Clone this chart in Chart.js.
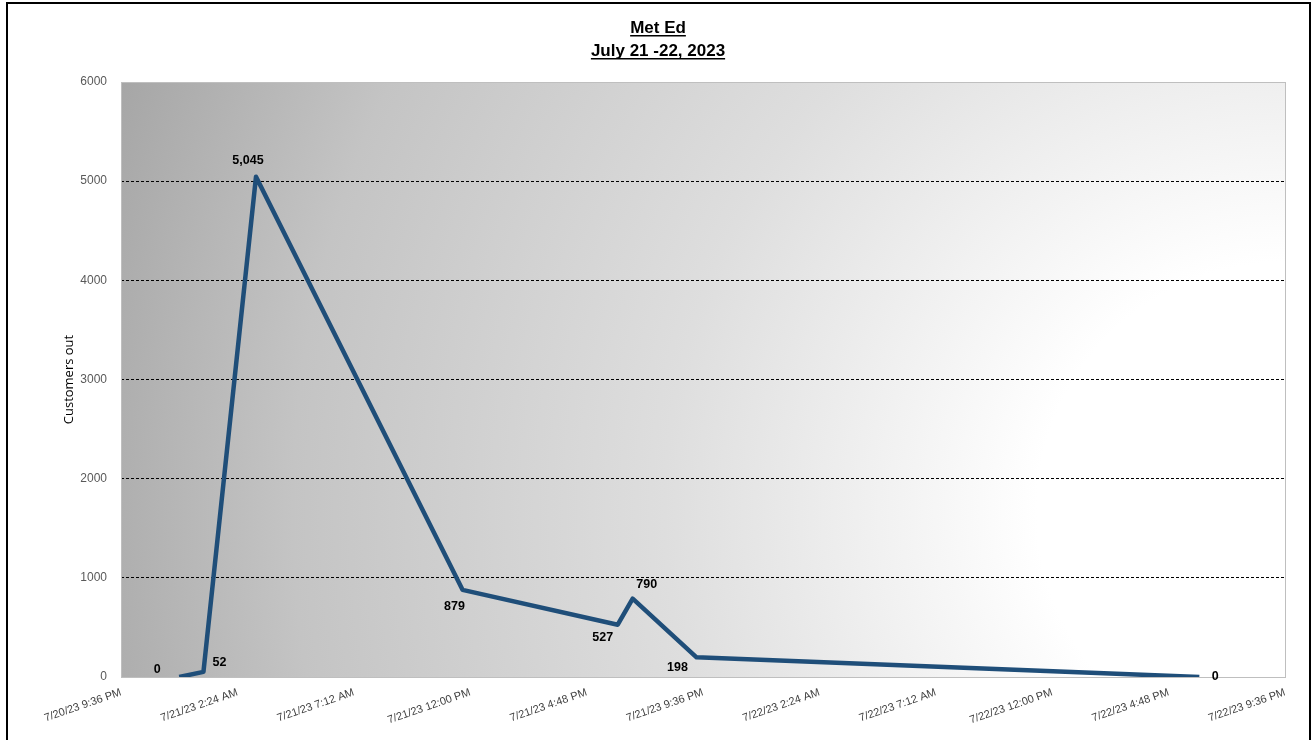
<!DOCTYPE html>
<html>
<head>
<meta charset="utf-8">
<script src="https://cdn.jsdelivr.net/npm/chart.js@4"></script>
<style>
  html, body { margin: 0; padding: 0; background: #ffffff; }
  #wrap { width: 1314px; height: 740px; position: relative; }
</style>
</head>
<body>
<div id="wrap"><canvas id="c" width="1314" height="740"></canvas></div>
<script>
// ---- data ----
const titleLines = ['Met Ed', 'July 21 -22, 2023'];
const yAxisTitle = 'Customers out';
const axisStart = '2023-07-20T21:36:00';
const axisEnd = '2023-07-22T21:36:00';
const tickStepHours = 4.8;
const times = [
  '2023-07-21T00:00:00',
  '2023-07-21T01:00:00',
  '2023-07-21T03:10:00',
  '2023-07-21T11:41:00',
  '2023-07-21T18:05:00',
  '2023-07-21T18:42:00',
  '2023-07-21T21:20:00',
  '2023-07-22T18:04:00'
];
const customersOut = [0, 52, 5045, 879, 527, 790, 198, 0];
const yTicks = [0, 1000, 2000, 3000, 4000, 5000, 6000];

// ---- style (label offsets relative to points) ----
const labelOffsets = [[-22, -7], [16, -9], [-8, -16], [-8, 17], [-15, 13], [14, -14], [-19, 10], [16, 0]];

const t0 = new Date(axisStart).getTime();
const toHours = s => (new Date(s).getTime() - t0) / 3600000;
const points = times.map((t, i) => ({ x: toHours(t), y: customersOut[i] }));

function fmtTick(h) {
  const d = new Date(t0 + Math.round(h * 60) * 60000);
  let hr = d.getHours();
  const ampm = hr >= 12 ? 'PM' : 'AM';
  hr = hr % 12; if (hr === 0) hr = 12;
  const mm = String(d.getMinutes()).padStart(2, '0');
  const yy = String(d.getFullYear()).slice(2);
  return (d.getMonth() + 1) + '/' + d.getDate() + '/' + yy + ' ' + hr + ':' + mm + ' ' + ampm;
}

const bgPlugin = {
  id: 'bg',
  beforeDraw(chart) {
    const { ctx, chartArea: a } = chart;
    ctx.save();
    const cx = a.right, cy = a.top + (a.bottom - a.top) * 0.72;
    const r = Math.hypot(a.right - a.left, cy - a.top);
    const g = ctx.createRadialGradient(cx, cy, 0, cx, cy, r);
    g.addColorStop(0, '#ffffff');
    g.addColorStop(0.2, '#ffffff');
    g.addColorStop(0.5, '#dedede');
    g.addColorStop(0.8, '#c4c4c4');
    g.addColorStop(1, '#a6a6a6');
    ctx.fillStyle = g;
    ctx.fillRect(a.left, a.top, a.right - a.left, a.bottom - a.top);
    ctx.restore();
  },
  beforeDatasetsDraw(chart) {
    const { ctx, chartArea: a } = chart;
    ctx.save();
    ctx.strokeStyle = '#bfbfbf';
    ctx.lineWidth = 1;
    ctx.strokeRect(a.left + 0.5, a.top + 0.5, a.right - a.left, a.bottom - a.top);
    ctx.restore();
  },
  afterDatasetsDraw(chart) {
    const { ctx } = chart;
    const meta = chart.getDatasetMeta(0);
    ctx.save();
    ctx.font = 'bold 12.5px "Liberation Sans", Arial, sans-serif';
    ctx.fillStyle = '#000000';
    ctx.textAlign = 'center';
    ctx.textBaseline = 'middle';
    meta.data.forEach((el, i) => {
      const v = customersOut[i];
      const o = labelOffsets[i];
      ctx.fillText(v.toLocaleString('en-US'), el.x + o[0], el.y + o[1]);
    });
    ctx.restore();
  },
  afterDraw(chart) {
    const { ctx } = chart;
    ctx.save();
    ctx.font = 'bold 17px "Liberation Sans", Arial, sans-serif';
    ctx.fillStyle = '#000000';
    ctx.textAlign = 'center';
    ctx.textBaseline = 'alphabetic';
    const cx = 658;
    const baselines = [33, 56];
    titleLines.forEach((t, i) => {
      ctx.fillText(t, cx, baselines[i]);
      const w = ctx.measureText(t).width;
      ctx.fillRect(cx - w / 2, baselines[i] + 2, w, 1.5);
    });
    ctx.strokeStyle = '#000000';
    ctx.lineWidth = 2;
    ctx.strokeRect(7, 3, 1303, 800);
    ctx.restore();
  }
};

new Chart(document.getElementById('c'), {
  type: 'line',
  data: {
    datasets: [{
      data: points,
      borderColor: '#1f4e79',
      borderWidth: 4.5,
      pointRadius: 0,
      pointHoverRadius: 0,
      fill: false,
      tension: 0,
      borderJoinStyle: 'round',
      borderCapStyle: 'butt'
    }]
  },
  options: {
    responsive: false,
    animation: false,
    devicePixelRatio: 1,
    layout: { padding: { left: 61, right: 29, top: 82, bottom: 0 } },
    plugins: { legend: { display: false }, tooltip: { enabled: false }, title: { display: false } },
    scales: {
      x: {
        type: 'linear',
        min: 0,
        max: toHours(axisEnd),
        afterFit(s) { s.height = 63; },
        afterBuildTicks(s) {
          const arr = [];
          for (let i = 0; i * tickStepHours <= s.max + 1e-9; i++) arr.push({ value: i * tickStepHours });
          s.ticks = arr;
        },
        ticks: {
          autoSkip: false,
          minRotation: 19,
          maxRotation: 19,
          padding: 9,
          color: '#404040',
          font: { family: '"Liberation Sans", Arial, sans-serif', size: 11 },
          callback: v => fmtTick(v)
        },
        grid: { display: false, drawTicks: false },
        border: { display: false }
      },
      y: {
        min: 0,
        max: 6000,
        afterFit(s) { s.width = 60; },
        afterBuildTicks(s) { s.ticks = yTicks.map(v => ({ value: v })); },
        ticks: {
          padding: 14,
          color: '#595959',
          font: { family: '"Liberation Sans", Arial, sans-serif', size: 12 },
          callback: v => String(v)
        },
        grid: {
          drawTicks: false,
          lineWidth: 1,
          color: c => (c.tick && c.tick.value > 0 && c.tick.value < 6000) ? '#000000' : 'rgba(0,0,0,0)'
        },
        border: { display: false, dash: [3, 2] },
        title: {
          display: true,
          text: yAxisTitle,
          color: '#000000',
          font: { family: '"Open Sans", Arial, sans-serif', size: 13 },
          padding: { top: 0, bottom: 0 }
        }
      }
    }
  },
  plugins: [bgPlugin]
});
</script>
</body>
</html>
